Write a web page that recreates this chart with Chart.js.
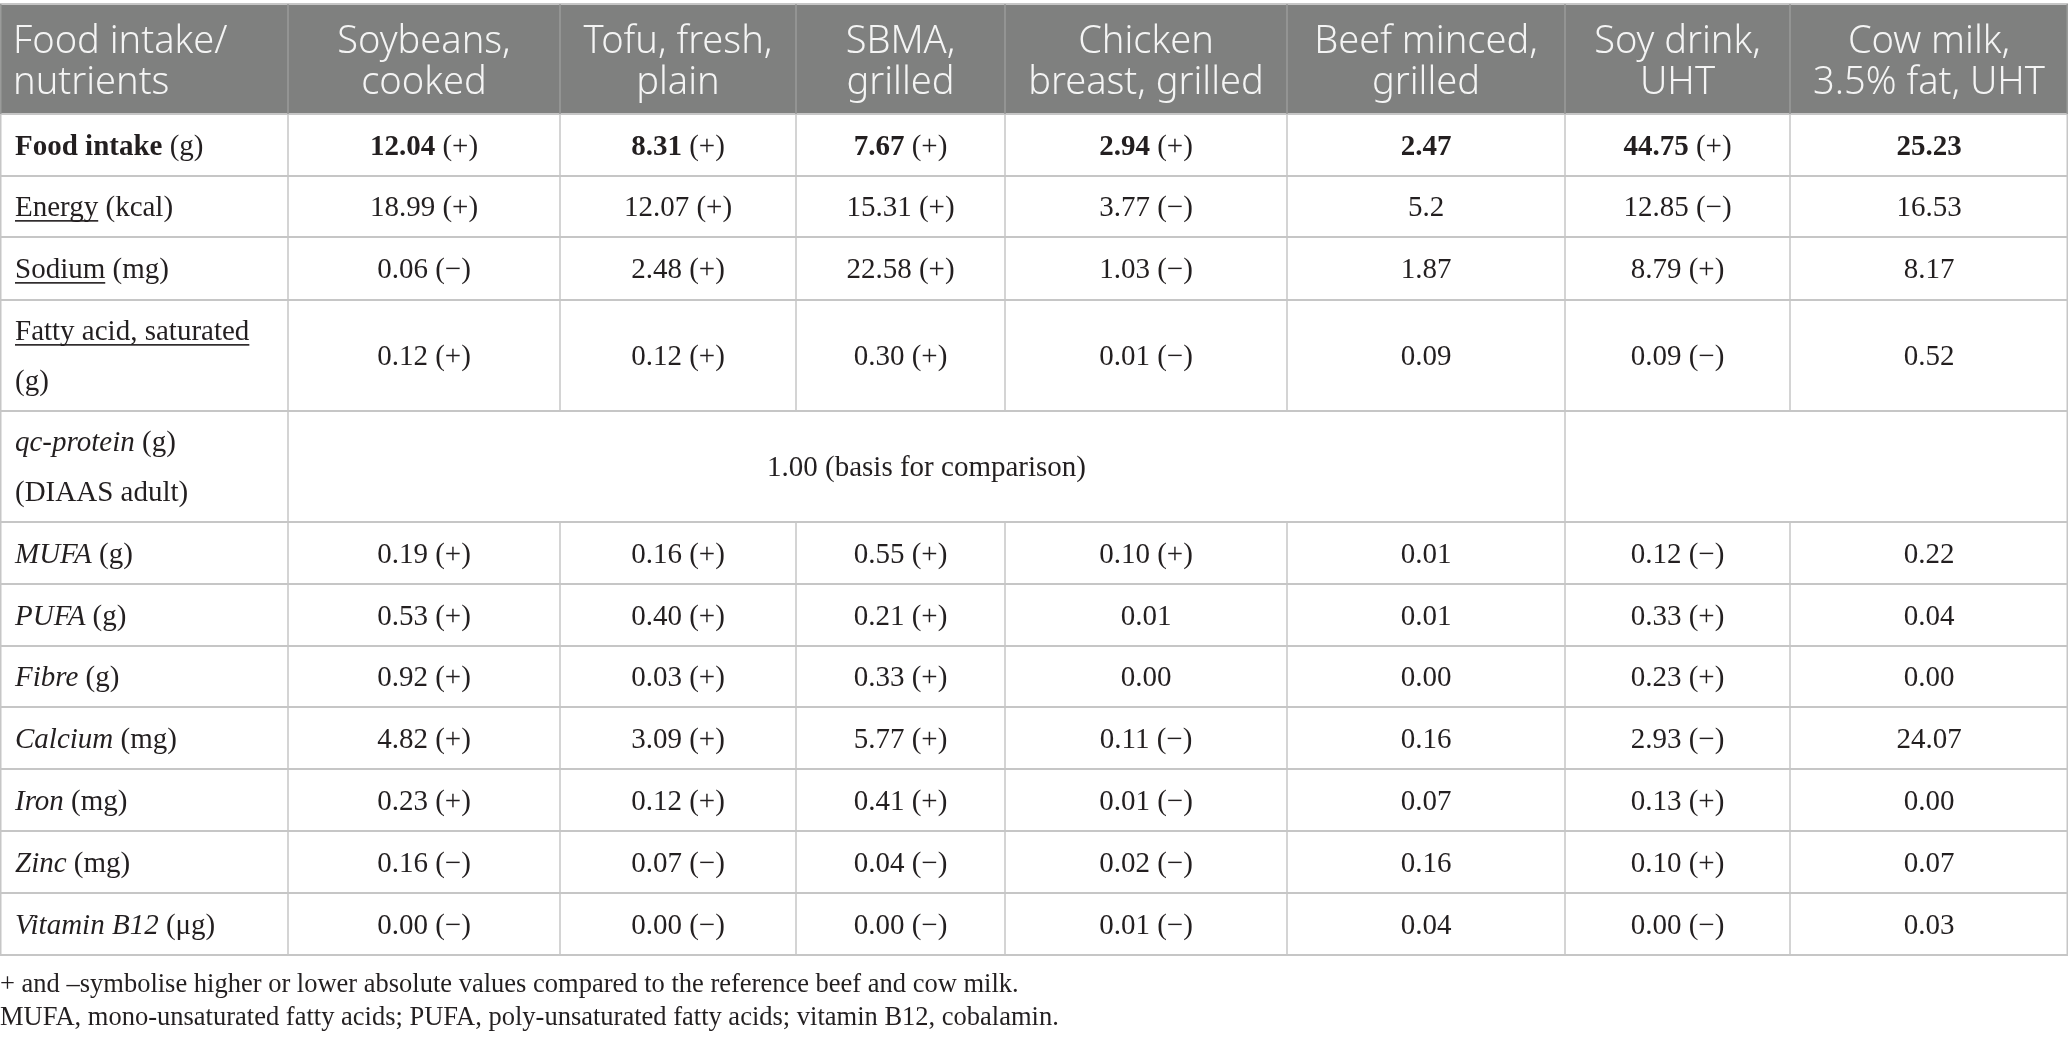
<!DOCTYPE html>
<html>
<head>
<meta charset="UTF-8" />
<title>Food intake and nutrients</title>
<script src="https://cdn.jsdelivr.net/npm/chart.js@4/dist/chart.umd.min.js"></script>
<style>
  html, body { margin: 0; padding: 0; background: #ffffff; }
  .wrap { position: relative; width: 2068px; height: 1045px; }
</style>
</head>
<body>
<div class="wrap"><canvas id="tableChart"></canvas></div>
<script>
// column headers (two lines each)
var headers = [
  ['Food intake/', 'nutrients'],
  ['Soybeans,', 'cooked'],
  ['Tofu, fresh,', 'plain'],
  ['SBMA,', 'grilled'],
  ['Chicken', 'breast, grilled'],
  ['Beef minced,', 'grilled'],
  ['Soy drink,', 'UHT'],
  ['Cow milk,', '3.5% fat, UHT']
];

// row labels
var rowNames = ['Food intake', 'Energy', 'Sodium', 'Fatty acid, saturated', 'qc-protein', 'MUFA',
  'PUFA', 'Fibre', 'Calcium', 'Iron', 'Zinc', 'Vitamin B12'];
var rowUnits = ['(g)', '(kcal)', '(mg)', '(g)', '(g)', '(g)', '(g)', '(g)', '(mg)', '(mg)', '(mg)', '(\u03bcg)'];
var rowNotes = ['', '', '', '', '(DIAAS adult)', '', '', '', '', '', '', ''];

// values per food (row 5 = qc-protein, shared cell)
var soybeans = ['12.04 (+)', '18.99 (+)', '0.06 (\u2212)', '0.12 (+)', null, '0.19 (+)', '0.53 (+)', '0.92 (+)', '4.82 (+)', '0.23 (+)', '0.16 (\u2212)', '0.00 (\u2212)'];
var tofu = ['8.31 (+)', '12.07 (+)', '2.48 (+)', '0.12 (+)', null, '0.16 (+)', '0.40 (+)', '0.03 (+)', '3.09 (+)', '0.12 (+)', '0.07 (\u2212)', '0.00 (\u2212)'];
var sbma = ['7.67 (+)', '15.31 (+)', '22.58 (+)', '0.30 (+)', null, '0.55 (+)', '0.21 (+)', '0.33 (+)', '5.77 (+)', '0.41 (+)', '0.04 (\u2212)', '0.00 (\u2212)'];
var chicken = ['2.94 (+)', '3.77 (\u2212)', '1.03 (\u2212)', '0.01 (\u2212)', null, '0.10 (+)', '0.01', '0.00', '0.11 (\u2212)', '0.01 (\u2212)', '0.02 (\u2212)', '0.01 (\u2212)'];
var beef = ['2.47', '5.2', '1.87', '0.09', null, '0.01', '0.01', '0.00', '0.16', '0.07', '0.16', '0.04'];
var soyDrink = ['44.75 (+)', '12.85 (\u2212)', '8.79 (+)', '0.09 (\u2212)', null, '0.12 (\u2212)', '0.33 (+)', '0.23 (+)', '2.93 (\u2212)', '0.13 (+)', '0.10 (+)', '0.00 (\u2212)'];
var cowMilk = ['25.23', '16.53', '8.17', '0.52', null, '0.22', '0.04', '0.00', '24.07', '0.00', '0.07', '0.03'];
var proteinBasis = '1.00 (basis for comparison)';

var footnotes = [
  '+ and \u2013symbolise higher or lower absolute values compared to the reference beef and cow milk.',
  'MUFA, mono-unsaturated fatty acids; PUFA, poly-unsaturated fatty acids; vitamin B12, cobalamin.'
];

// layout (in axis units = page pixels)
var colEdges = [0, 288, 560, 796, 1005, 1287, 1565, 1790, 2068];
var rowEdges = [4, 114, 176, 237, 300, 411, 522, 584, 646, 707, 769, 831, 893, 955];
var footY = [983, 1016];
var labelStyle = ['bold', 'underline', 'underline', 'underline', 'italic', 'italic', 'italic', 'italic', 'italic', 'italic', 'italic', 'italic'];
var serif = '"Liberation Serif", "DejaVu Serif", serif';
var sans = '"Noto Sans", "Open Sans", sans-serif';
var bodySize = 29, headSize = 38, footSize = 26.5;

var columnsData = [soybeans, tofu, sbma, chicken, beef, soyDrink, cowMilk];

function drawRuns(ctx, runs, x, baseline, align) {
  var total = 0;
  runs.forEach(function (r) { ctx.font = r.font; r.w = ctx.measureText(r.text).width; total += r.w; });
  var cx = align === 'center' ? x - total / 2 : x;
  runs.forEach(function (r) {
    ctx.font = r.font;
    ctx.fillText(r.text, cx, baseline);
    if (r.underline) {
      ctx.fillRect(cx, baseline + 4, r.w, 1.6);
    }
    cx += r.w;
  });
  return total;
}

var tablePlugin = {
  id: 'tableDraw',
  afterDraw: function (chart) {
    var ctx = chart.ctx, xs = chart.scales.x, ys = chart.scales.y;
    function X(v) { return xs.getPixelForValue(v); }
    function Y(v) { return ys.getPixelForValue(v); }
    var nCols = colEdges.length - 1;
    ctx.save();
    ctx.textAlign = 'left';
    ctx.textBaseline = 'alphabetic';

    // header background
    ctx.fillStyle = '#7f807f';
    ctx.fillRect(X(0), Y(rowEdges[0]), X(2068) - X(0), Y(rowEdges[1]) - Y(rowEdges[0]));

    // grid lines
    ctx.fillStyle = '#c6c6c6';
    ctx.fillRect(X(0), Y(rowEdges[0]) - 1, X(2068) - X(0), 2);
    for (var r = 1; r < rowEdges.length; r++) {
      ctx.fillRect(X(0), Y(rowEdges[r]) - 1, X(2068) - X(0), 2);
    }
    for (var c = 0; c <= nCols; c++) {
      for (var r2 = 0; r2 < rowEdges.length - 1; r2++) {
        var dataRow = r2 - 1;
        // merged cells in the qc-protein row
        if (dataRow === 4 && ((c >= 2 && c <= 5) || c === 7)) continue;
        ctx.fillStyle = r2 === 0 ? '#9a9b9a' : '#c6c6c6';
        var xx = c === nCols ? X(colEdges[c]) - 1.5 : X(colEdges[c]) - (c === 0 ? 0 : 0.75);
        ctx.fillRect(xx, Y(rowEdges[r2]), 1.5, Y(rowEdges[r2 + 1]) - Y(rowEdges[r2]));
      }
    }

    // header text
    var hc = (Y(rowEdges[0]) + Y(rowEdges[1])) / 2;
    ctx.fillStyle = '#f4f4f4';
    ctx.font = '300 ' + headSize + 'px ' + sans;
    headers.forEach(function (lines, c) {
      lines.forEach(function (ln, i) {
        var base = hc + (i - 0.5) * 41 + headSize * 0.357 + 1;
        if (c === 0) {
          ctx.textAlign = 'left';
          ctx.fillText(ln, X(colEdges[0]) + 13, base);
        } else {
          ctx.textAlign = 'center';
          ctx.fillText(ln, (X(colEdges[c]) + X(colEdges[c + 1])) / 2, base);
        }
      });
    });
    ctx.textAlign = 'left';

    // body
    ctx.fillStyle = '#231f20';
    var reg = bodySize + 'px ' + serif;
    var bold = 'bold ' + bodySize + 'px ' + serif;
    var ital = 'italic ' + bodySize + 'px ' + serif;
    var capOff = bodySize * 0.33;
    rowNames.forEach(function (name, i) {
      var top = Y(rowEdges[i + 1]), bot = Y(rowEdges[i + 2]);
      var cy = (top + bot) / 2;
      var st = labelStyle[i];
      var nameRun = { text: name, font: st === 'bold' ? bold : (st === 'italic' ? ital : reg), underline: st === 'underline' };
      var unitRun = { text: ' ' + rowUnits[i], font: reg };
      ctx.font = nameRun.font;
      var wName = ctx.measureText(name).width;
      ctx.font = reg;
      var wUnit = ctx.measureText(unitRun.text).width;
      var lx = X(colEdges[0]) + 15;
      var avail = X(colEdges[1]) - lx - 8;
      var lines = [];
      if (wName + wUnit > avail) {
        lines.push([nameRun]);
        lines.push([{ text: rowUnits[i], font: reg }]);
      } else {
        lines.push([nameRun, unitRun]);
      }
      if (rowNotes[i]) lines.push([{ text: rowNotes[i], font: reg }]);
      lines.forEach(function (runs, k) {
        var base = cy + (k - (lines.length - 1) / 2) * 50 + capOff;
        drawRuns(ctx, runs, lx, base, 'left');
      });

      // values
      if (i === 4) {
        var mx = (X(colEdges[1]) + X(colEdges[6])) / 2;
        drawRuns(ctx, [{ text: proteinBasis, font: reg }], mx, cy + capOff, 'center');
        return;
      }
      columnsData.forEach(function (col, c) {
        var v = col[i];
        if (v == null) return;
        var cx = (X(colEdges[c + 1]) + X(colEdges[c + 2])) / 2;
        var sp = v.indexOf(' ');
        var num = sp < 0 ? v : v.slice(0, sp);
        var rest = sp < 0 ? '' : v.slice(sp);
        var runs = [{ text: num, font: i === 0 ? bold : reg }];
        if (rest) runs.push({ text: rest, font: reg });
        drawRuns(ctx, runs, cx, cy + capOff, 'center');
      });
    });

    // footnotes
    ctx.font = footSize + 'px ' + serif;
    footnotes.forEach(function (t, k) {
      ctx.fillText(t, X(0), Y(footY[k]) + footSize * 0.33);
    });
    ctx.restore();
  }
};

new Chart(document.getElementById('tableChart'), {
  type: 'scatter',
  data: { datasets: [{ data: [], pointRadius: 0 }] },
  options: {
    responsive: true,
    maintainAspectRatio: false,
    animation: false,
    events: [],
    layout: { padding: 0 },
    plugins: { legend: { display: false }, tooltip: { enabled: false } },
    scales: {
      x: { type: 'linear', min: 0, max: 2068, display: false },
      y: { type: 'linear', min: 0, max: 1045, reverse: true, display: false }
    }
  },
  plugins: [tablePlugin]
});
</script>
</body>
</html>
